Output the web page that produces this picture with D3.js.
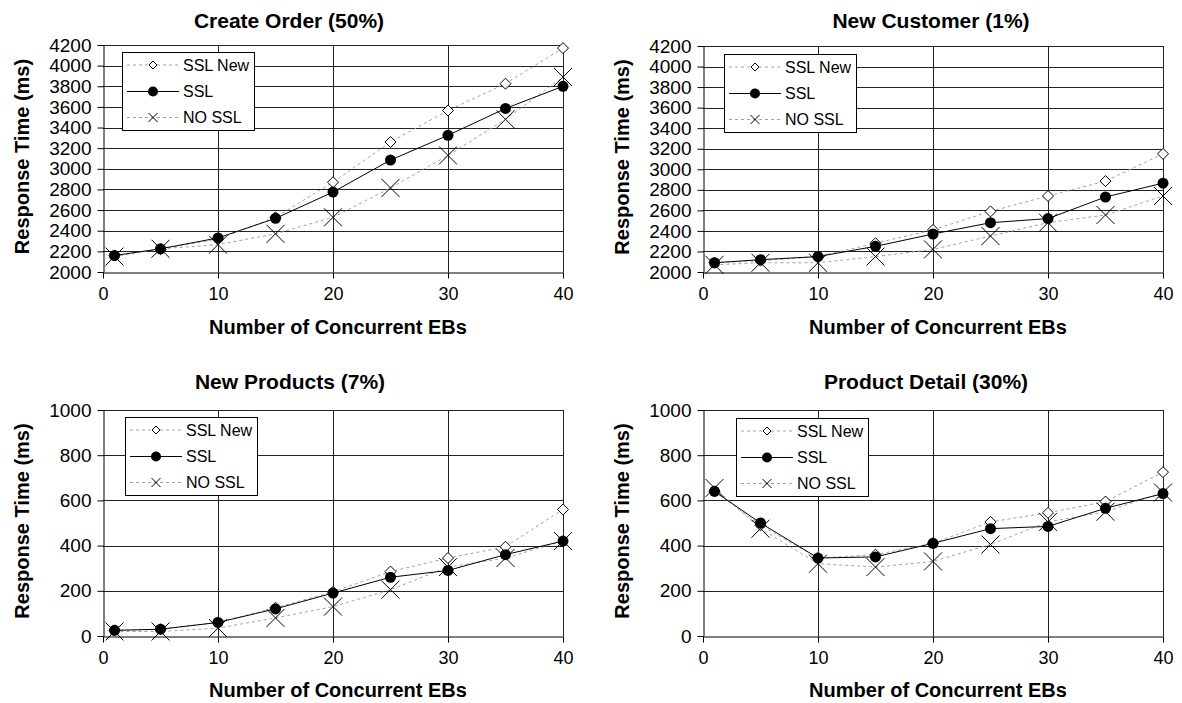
<!DOCTYPE html>
<html>
<head>
<meta charset="utf-8">
<script src="https://cdn.jsdelivr.net/npm/d3@7"></script>
<style>
  html, body { margin: 0; padding: 0; background: #fff; }
  svg { display: block; font-family: "Liberation Sans", Arial, Helvetica, sans-serif; }
</style>
</head>
<body>
<svg id="chart" width="1182" height="703"></svg>
<script>
// Number of concurrent emulated browsers (x values shared by all panels)
const ebs = [1, 5, 10, 15, 20, 25, 30, 35, 40];
const xTicks = [0, 10, 20, 30, 40];

// Response times (ms) per interaction
const createOrderSslNew = [2160, 2220, 2320, 2530, 2870, 3260, 3565, 3825, 4170];
const createOrderSsl    = [2160, 2225, 2330, 2520, 2775, 3085, 3325, 3585, 3800];
const createOrderNoSsl  = [2150, 2225, 2265, 2370, 2530, 2815, 3130, 3480, 3890];

const newCustomerSslNew = [2090, 2110, 2150, 2280, 2410, 2590, 2740, 2885, 3150];
const newCustomerSsl    = [2090, 2120, 2150, 2250, 2370, 2480, 2520, 2730, 2865];
const newCustomerNoSsl  = [2070, 2090, 2090, 2150, 2220, 2350, 2480, 2555, 2740];

const newProductsSslNew = [25, 30, 60, 125, 195, 285, 345, 395, 560];
const newProductsSsl    = [25, 30, 60, 120, 190, 260, 290, 360, 420];
const newProductsNoSsl  = [20, 20, 35, 80, 130, 205, 305, 345, 420];

const productDetailSslNew = [640, 490, 345, 360, 410, 505, 545, 595, 725];
const productDetailSsl    = [640, 500, 345, 350, 410, 475, 485, 565, 630];
const productDetailNoSsl  = [655, 475, 320, 305, 330, 405, 505, 550, 635];

const titles = ["Create Order (50%)", "New Customer (1%)", "New Products (7%)", "Product Detail (30%)"];
const seriesNames = ["SSL New", "SSL", "NO SSL"];
const yTicksHigh = d3.range(2000, 4201, 200);
const yTicksLow = d3.range(0, 1001, 200);
const xTitle = "Number of Concurrent EBs";
const yTitle = "Response Time (ms)";

const panelData = [
  { title: titles[0], ticks: yTicksHigh, series: [createOrderSslNew, createOrderSsl, createOrderNoSsl] },
  { title: titles[1], ticks: yTicksHigh, series: [newCustomerSslNew, newCustomerSsl, newCustomerNoSsl] },
  { title: titles[2], ticks: yTicksLow,  series: [newProductsSslNew, newProductsSsl, newProductsNoSsl] },
  { title: titles[3], ticks: yTicksLow,  series: [productDetailSslNew, productDetailSsl, productDetailNoSsl] }
];

// Panel geometry (plot rectangle, title centre, legend box offset)
const layout = [
  { left: 103, right: 563,  top: 45,  bottom: 272, titleX: 289, titleY: 20,  yTitleX: 22,  xTitleY: 327, legX: 19, legY: 7 },
  { left: 703, right: 1163, top: 46,  bottom: 272, titleX: 931, titleY: 20,  yTitleX: 622, xTitleY: 327, legX: 21, legY: 8 },
  { left: 103, right: 563,  top: 410, bottom: 636, titleX: 290, titleY: 381, yTitleX: 22,  xTitleY: 690, legX: 22, legY: 7 },
  { left: 703, right: 1163, top: 410, bottom: 636, titleX: 926, titleY: 381, yTitleX: 622, xTitleY: 690, legX: 33, legY: 8 }
];

const svg = d3.select("#chart");
const dashColor = "#a3a3a3";

function drawMarker(g, kind, x, y, big) {
  if (kind === 0) {
    const s = big ? 5.5 : 4;
    g.append("path")
      .attr("d", `M${x},${y - s}L${x + s},${y}L${x},${y + s}L${x - s},${y}Z`)
      .attr("fill", "#fff").attr("stroke", "#000").attr("stroke-width", 1);
  } else if (kind === 1) {
    g.append("circle").attr("cx", x).attr("cy", y).attr("r", big ? 5.5 : 5).attr("fill", "#000");
  } else {
    const s = big ? 9 : 4.5;
    g.append("path")
      .attr("d", `M${x - s},${y - s}L${x + s},${y + s}M${x - s},${y + s}L${x + s},${y - s}`)
      .attr("stroke", "#000").attr("stroke-width", 1).attr("fill", "none");
  }
}

panelData.forEach((p, i) => {
  const L = layout[i];
  const x = d3.scaleLinear().domain([0, 40]).range([L.left, L.right]);
  const y = d3.scaleLinear().domain(d3.extent(p.ticks)).range([L.bottom, L.top]);
  const g = svg.append("g");

  // Horizontal and vertical grid lines
  g.append("g").selectAll("line").data(p.ticks.slice(1)).join("line")
    .attr("x1", L.left).attr("x2", L.right)
    .attr("y1", d => Math.round(y(d)) + 0.5).attr("y2", d => Math.round(y(d)) + 0.5)
    .attr("stroke", "#222").attr("stroke-width", 1);
  g.append("g").selectAll("line").data(xTicks.slice(1)).join("line")
    .attr("x1", d => Math.round(x(d)) + 0.5).attr("x2", d => Math.round(x(d)) + 0.5)
    .attr("y1", L.top).attr("y2", L.bottom)
    .attr("stroke", "#222").attr("stroke-width", 1);

  // Axes
  const yAxis = g.append("g")
    .attr("transform", `translate(${Math.round(L.left) + 0.5},0)`)
    .call(d3.axisLeft(y).tickValues(p.ticks).tickSize(6).tickSizeOuter(0).tickPadding(6).tickFormat(d3.format("d")));
  const xAxis = g.append("g")
    .attr("transform", `translate(0,${Math.round(L.bottom) + 0.5})`)
    .call(d3.axisBottom(x).tickValues(xTicks).tickSize(6).tickSizeOuter(0).tickPadding(9).tickFormat(d3.format("d")));
  yAxis.selectAll("text").attr("font-size", 19);
  xAxis.selectAll("text").attr("font-size", 18);
  [yAxis, xAxis].forEach(a => {
    a.selectAll("text").attr("fill", "#000")
      .attr("font-family", "'Liberation Sans', Arial, sans-serif");
    a.selectAll("line, path").attr("stroke", "#000");
  });

  // Titles
  g.append("text").attr("x", L.titleX).attr("y", L.titleY).attr("dy", "0.36em")
    .attr("text-anchor", "middle").attr("font-size", 21).attr("font-weight", "bold").text(p.title);
  g.append("text").attr("x", (L.left + L.right) / 2 + 5).attr("y", L.xTitleY).attr("dy", "0.36em")
    .attr("text-anchor", "middle").attr("font-size", 20).attr("font-weight", "bold").text(xTitle);
  g.append("text")
    .attr("transform", `translate(${L.yTitleX},${(L.top + L.bottom) / 2 - 2}) rotate(-90)`)
    .attr("dy", "0.36em").attr("text-anchor", "middle")
    .attr("font-size", 20).attr("font-weight", "bold").text(yTitle);

  // Series lines: dashed grey for SSL New / NO SSL, solid black for SSL
  const line = d3.line().x((d, k) => x(ebs[k])).y(d => y(d));
  [0, 2, 1].forEach(s => {
    g.append("path").attr("d", line(p.series[s])).attr("fill", "none")
      .attr("stroke", s === 1 ? "#000" : dashColor)
      .attr("stroke-width", 1)
      .attr("stroke-dasharray", s === 1 ? null : "3,3");
  });

  // Markers
  [0, 1, 2].forEach(s => {
    p.series[s].forEach((v, k) => drawMarker(g, s, x(ebs[k]), y(v), true));
  });

  // Legend
  const lx = L.left + L.legX, ly = L.top + L.legY;
  const leg = g.append("g");
  leg.append("rect").attr("x", lx + 0.5).attr("y", ly + 0.5).attr("width", 132).attr("height", 78)
    .attr("fill", "#fff").attr("stroke", "#000").attr("stroke-width", 1);
  const rowY = [13, 39.5, 65.5];
  seriesNames.forEach((name, s) => {
    const ry = ly + rowY[s];
    leg.append("line").attr("x1", lx + 5).attr("x2", lx + 57).attr("y1", ry).attr("y2", ry)
      .attr("stroke", s === 1 ? "#000" : dashColor).attr("stroke-width", 1)
      .attr("stroke-dasharray", s === 1 ? null : "3,3");
    drawMarker(leg, s, lx + 31, ry, false);
    leg.append("text").attr("x", lx + 61).attr("y", ry).attr("dy", "0.36em")
      .attr("font-size", 16).text(name);
  });
});
</script>
</body>
</html>
